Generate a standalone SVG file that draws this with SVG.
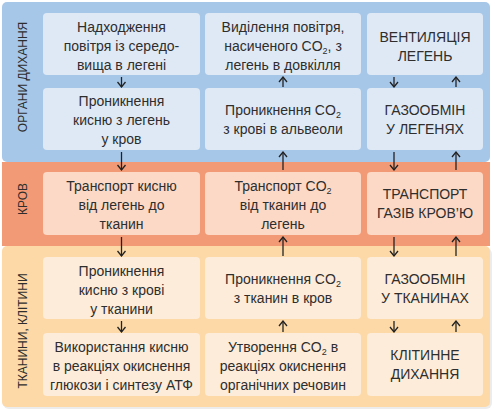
<svg xmlns="http://www.w3.org/2000/svg" width="495" height="409" viewBox="0 0 495 409">
<style>
text{font-family:"Liberation Sans",Arial,sans-serif;font-size:14px;fill:#2e2e2e;text-anchor:middle}
.side{font-size:12px}
.bb{fill:#dfe9f5}
.ob{fill:#fcd9c6}
.pb{fill:#fdecd9}
.ar{stroke:#222;stroke-width:1.3;fill:none;marker-end:url(#ah)}
.s{font-size:9px}
</style>
<defs>
<marker id="ah" viewBox="-6 -5 7 10" refX="0" refY="0" markerWidth="7" markerHeight="10" markerUnits="userSpaceOnUse" orient="auto">
<path d="M-5,-4 L0,0 L-5,4" fill="none" stroke="#222" stroke-width="1.3"/>
</marker>
</defs>
<rect x="0" y="0" width="495" height="409" fill="#fff"/>
<g id="bands">
<rect x="3" y="248" width="489" height="161" rx="6" fill="#ececec"/>
<rect x="2" y="246" width="488" height="161" rx="5" fill="#fcd9a7"/>
<rect x="2" y="2" width="488" height="160" rx="5" fill="#a7c7e8"/>
<rect x="2" y="162" width="488" height="84" fill="#f29a75"/>
</g>
<g id="side-labels">
<text class="side" transform="translate(27,77) rotate(-90)">ОРГАНИ ДИХАННЯ</text>
<text class="side" transform="translate(27,199) rotate(-90)">КРОВ</text>
<text class="side" transform="translate(27,331) rotate(-90)">ТКАНИНИ, КЛІТИНИ</text>
</g>
<g id="n11"><rect class="bb" x="43" y="13" width="157" height="62" rx="4"/>
<text x="121.5" y="32">Надходження</text><text x="121.5" y="51">повітря із середо-</text><text x="121.5" y="70">вища в легені</text></g>
<g id="n12"><rect class="bb" x="205" y="13" width="156" height="62" rx="4"/>
<text x="283" y="32">Виділення повітря,</text><text x="283" y="51">насиченого CO<tspan class="s" dy="3">2</tspan><tspan dy="-3">, з</tspan></text><text x="283" y="70">легень в довкілля</text></g>
<g id="n13"><rect class="bb" x="367" y="13" width="116" height="62" rx="4"/>
<text x="425" y="42">ВЕНТИЛЯЦІЯ</text><text x="425" y="61">ЛЕГЕНЬ</text></g>
<g id="n21"><rect class="bb" x="43" y="88" width="157" height="62" rx="4"/>
<text x="121.5" y="106">Проникнення</text><text x="121.5" y="125">кисню з легень</text><text x="121.5" y="144">у кров</text></g>
<g id="n22"><rect class="bb" x="205" y="88" width="156" height="62" rx="4"/>
<text x="283" y="115">Проникнення CO<tspan class="s" dy="3">2</tspan></text><text x="283" y="134">з крові в альвеоли</text></g>
<g id="n23"><rect class="bb" x="367" y="88" width="116" height="62" rx="4"/>
<text x="425" y="115">ГАЗООБМІН</text><text x="425" y="134">У ЛЕГЕНЯХ</text></g>
<g id="n31"><rect class="ob" x="43" y="172" width="157" height="63" rx="4"/>
<text x="121.5" y="191">Транспорт кисню</text><text x="121.5" y="210">від легень до</text><text x="121.5" y="229">тканин</text></g>
<g id="n32"><rect class="ob" x="205" y="172" width="156" height="63" rx="4"/>
<text x="283" y="191">Транспорт CO<tspan class="s" dy="3">2</tspan></text><text x="283" y="210">від тканин до</text><text x="283" y="229">легень</text></g>
<g id="n33"><rect class="ob" x="367" y="172" width="116" height="63" rx="4"/>
<text x="425" y="199">ТРАНСПОРТ</text><text x="425" y="218">ГАЗІВ КРОВ’Ю</text></g>
<g id="n41"><rect class="pb" x="43" y="257" width="157" height="62" rx="4"/>
<text x="121.5" y="276">Проникнення</text><text x="121.5" y="295">кисню з крові</text><text x="121.5" y="314">у тканини</text></g>
<g id="n42"><rect class="pb" x="205" y="257" width="156" height="62" rx="4"/>
<text x="283" y="284">Проникнення CO<tspan class="s" dy="3">2</tspan></text><text x="283" y="303">з тканин в кров</text></g>
<g id="n43"><rect class="pb" x="367" y="257" width="116" height="62" rx="4"/>
<text x="425" y="284">ГАЗООБМІН</text><text x="425" y="303">У ТКАНИНАХ</text></g>
<g id="n51"><rect class="pb" x="43" y="333" width="157" height="63" rx="4"/>
<text x="121.5" y="352">Використання кисню</text><text x="121.5" y="371">в реакціях окиснення</text><text x="121.5" y="390">глюкози і синтезу АТФ</text></g>
<g id="n52"><rect class="pb" x="205" y="333" width="156" height="63" rx="4"/>
<text x="283" y="352">Утворення CO<tspan class="s" dy="3">2</tspan><tspan dy="-3"> в</tspan></text><text x="283" y="371">реакціях окиснення</text><text x="283" y="390">органічних речовин</text></g>
<g id="n53"><rect class="pb" x="367" y="333" width="116" height="63" rx="4"/>
<text x="425" y="360">КЛІТИННЕ</text><text x="425" y="379">ДИХАННЯ</text></g>
<g id="connectors">
<line class="ar" x1="121.5" y1="77" x2="121.5" y2="87"/>
<line class="ar" x1="121.5" y1="152" x2="121.5" y2="170"/>
<line class="ar" x1="121.5" y1="237" x2="121.5" y2="256"/>
<line class="ar" x1="121.5" y1="321" x2="121.5" y2="332"/>
<line class="ar" x1="283" y1="87" x2="283" y2="77"/>
<line class="ar" x1="283" y1="170" x2="283" y2="152"/>
<line class="ar" x1="283" y1="256" x2="283" y2="237"/>
<line class="ar" x1="283" y1="332" x2="283" y2="321"/>
<line class="ar" x1="394" y1="77" x2="394" y2="87"/>
<line class="ar" x1="394" y1="152" x2="394" y2="170"/>
<line class="ar" x1="394" y1="237" x2="394" y2="256"/>
<line class="ar" x1="394" y1="321" x2="394" y2="332"/>
<line class="ar" x1="456" y1="87" x2="456" y2="77"/>
<line class="ar" x1="456" y1="170" x2="456" y2="152"/>
<line class="ar" x1="456" y1="256" x2="456" y2="237"/>
<line class="ar" x1="456" y1="332" x2="456" y2="321"/>
</g>
</svg>
